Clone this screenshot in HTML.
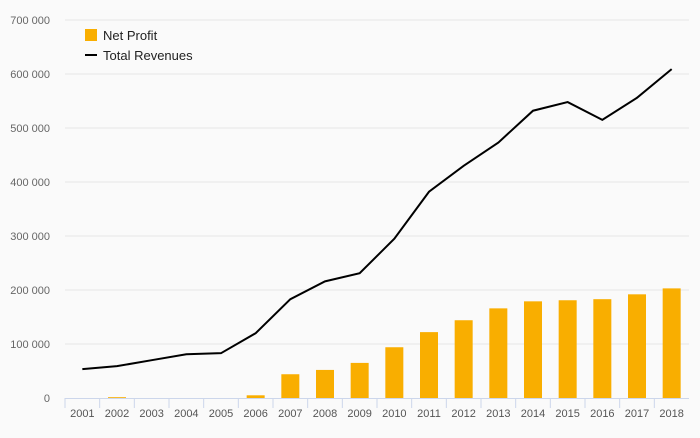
<!DOCTYPE html>
<html><head><meta charset="utf-8"><style>
body{margin:0;background:#fafafa;font-family:"Liberation Sans",sans-serif}
svg text{font-family:"Liberation Sans",sans-serif}
</style></head><body>
<svg id="c" width="700" height="433">
<rect width="700" height="433" fill="#fafafa"/>
<g id="grid"></g><g id="bars"></g><g id="axis"></g><g id="line"></g>
<g>
<rect x="85" y="29" width="12" height="12" fill="#f9ae00"/>
<text x="103" y="40" font-size="13" fill="#222">Net Profit</text>
<line x1="85" y1="55" x2="97" y2="55" stroke="#000" stroke-width="2"/>
<text x="103" y="60" font-size="13" fill="#222">Total Revenues</text>
</g>
</svg>
<script>
const categories=["2001","2002","2003","2004","2005","2006","2007","2008","2009","2010","2011","2012","2013","2014","2015","2016","2017","2018"];
const netProfit=[0,1500,0,0,0,5000,44000,52000,65000,94000,122000,144000,166000,179000,181000,183000,192000,203000];
const revenues=[53500,59000,70000,81000,83000,120000,183000,216000,231000,295000,382000,430000,473000,532000,548000,515000,556000,609000];
const yTicks=[0,100000,200000,300000,400000,500000,600000,700000];
const L=65,R=689,T=20,B=398,MAX=700000;
const bw=(R-L)/categories.length;
const x=i=>L+bw*(i+0.5);
const y=v=>B-(v/MAX)*(B-T);
const ns="http://www.w3.org/2000/svg";
function mk(p,t,a){const e=document.createElementNS(ns,t);for(const k in a)e.setAttribute(k,a[k]);p.appendChild(e);return e;}
const g=document.getElementById('grid'),ba=document.getElementById('bars'),ax=document.getElementById('axis'),ln=document.getElementById('line');
yTicks.forEach(v=>{
 if(v>0){const l=mk(g,'line',{x1:L,x2:R,y1:y(v),y2:y(v),stroke:'#e6e6e6'});
 
 }
 const t=mk(g,'text',{x:50,y:y(v)+4,'text-anchor':'end','font-size':11,fill:'#666'});
 t.textContent=v===0?'0':(v/1000)+' 000';
 
 
});
const al=mk(ax,'line',{x1:L,x2:R,y1:B+0.5,y2:B+0.5,stroke:'#ccd6eb'});


categories.forEach((c,i)=>{
 const tk=mk(ax,'line',{x1:L+bw*i,x2:L+bw*i,y1:B,y2:B+10,stroke:'#ccd6eb'});
 
 
 const t=mk(ax,'text',{x:x(i),y:417,'text-anchor':'middle','font-size':11,fill:'#555'});
 t.textContent=c;
 
 
 if(netProfit[i]>0){const r=mk(ba,'rect',{x:x(i)-9,y:y(netProfit[i]),width:18,height:B-y(netProfit[i]),fill:'#f9ae00'});
 
 }
});
const p=mk(ln,'polyline',{points:revenues.map((v,i)=>x(i)+','+y(v)).join(' '),fill:'none',stroke:'#000','stroke-width':2});


</script>
</body></html>
